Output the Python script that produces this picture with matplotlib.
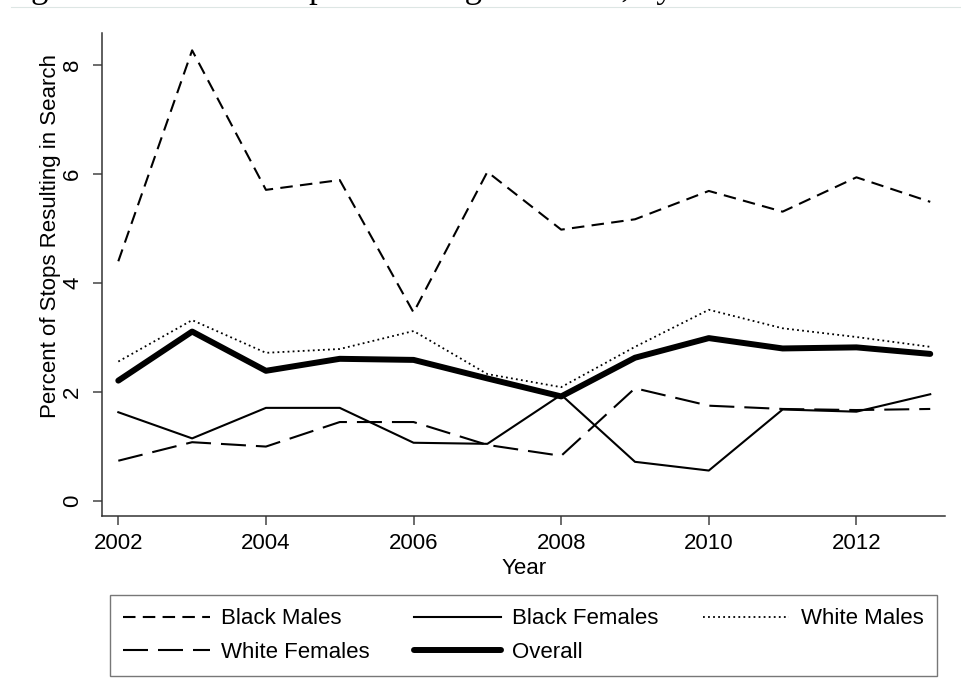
import numpy as np
import matplotlib
matplotlib.use("Agg")
import matplotlib.pyplot as plt
from matplotlib.lines import Line2D

years = [2002, 2003, 2004, 2005, 2006, 2007, 2008, 2009, 2010, 2011, 2012, 2013]
black_males = [4.39, 8.26, 5.70, 5.88, 3.45, 6.03, 4.97, 5.16, 5.68, 5.30, 5.93, 5.48]
black_females = [1.62, 1.14, 1.70, 1.70, 1.06, 1.04, 1.94, 0.71, 0.55, 1.67, 1.63, 1.95]
white_males = [2.55, 3.31, 2.71, 2.78, 3.11, 2.32, 2.08, 2.82, 3.50, 3.16, 3.00, 2.82]
white_females = [0.73, 1.07, 0.99, 1.44, 1.44, 1.02, 0.82, 2.06, 1.74, 1.68, 1.66, 1.68]
overall = [2.20, 3.10, 2.38, 2.60, 2.58, 2.24, 1.91, 2.62, 2.98, 2.79, 2.81, 2.69]

x_ticks = [2002, 2004, 2006, 2008, 2010, 2012]
y_ticks = [0, 2, 4, 6, 8]

plt.rcParams['font.family'] = ['Liberation Sans', 'DejaVu Sans']
plt.rcParams['font.size'] = 16

W, H = 961, 700
fig = plt.figure(figsize=(W / 100, H / 100), dpi=100)

# axes box in pixels: left 102, right 945, top 33, bottom 516
ax = fig.add_axes([102 / W, 1 - 516 / H, (945 - 102) / W, (516 - 33) / H])

styles = {
    "Black Males": dict(color="black", lw=1.5, dashes=(6, 3.5)),
    "Black Females": dict(color="black", lw=1.5, ls="-"),
    "White Males": dict(color="black", lw=1.3, dashes=(1, 1.8)),
    "White Females": dict(color="black", lw=1.5, dashes=(12, 4.8)),
    "Overall": dict(color="black", lw=4.3, ls="-", solid_capstyle="round"),
}
series = {
    "Black Males": black_males,
    "Black Females": black_females,
    "White Males": white_males,
    "White Females": white_females,
    "Overall": overall,
}
for name, vals in series.items():
    ax.plot(years, vals, **styles[name])

ax.set_xlim(2001.779, 2013.20)
ax.set_ylim(-0.284, 8.578)
ax.set_xticks(x_ticks)
ax.set_yticks(y_ticks)
ax.tick_params(axis="both", length=6.5, width=1.1, color="#444444", labelsize=16)
ax.tick_params(axis="x", pad=6)
ax.tick_params(axis="y", pad=7)
for lab in ax.get_yticklabels():
    lab.set_rotation(90)
    lab.set_va("center")
for side in ["top", "right"]:
    ax.spines[side].set_visible(False)
for side in ["left", "bottom"]:
    ax.spines[side].set_color("#333333")
    ax.spines[side].set_linewidth(1.1)

fig.text(51 / W, 1 - 236 / H, "Percent of Stops Resulting in Search",
         rotation=90, ha="center", va="center", fontsize=16)
fig.text(524 / W, 1 - 568 / H, "Year", ha="center", va="center", fontsize=16)

# legend, filled column by column
order = ["Black Males", "White Females", "Black Females", "Overall", "White Males"]
handles = [Line2D([], [], **styles[n]) for n in order]
leg = fig.legend(handles, order, ncol=3, loc="upper left",
                 bbox_to_anchor=(110 / W, 1 - 595 / H),
                 frameon=True, fancybox=False, handlelength=3.9,
                 handletextpad=0.5, columnspacing=2.0, labelspacing=0.55,
                 borderpad=0.6, borderaxespad=0, fontsize=16)
leg.get_frame().set_edgecolor("#555555")
leg.get_frame().set_linewidth(1.0)

# clipped caption from the page above and the rule under it
fig.text(2 / W, 1 + 3 / H, "Figure: Percent of Stops Resulting in Search, by Race and Gender",
         family=["Liberation Serif"], fontsize=25, ha="left", va="baseline")
fig.add_artist(Line2D([11 / W, 1], [1 - 7 / H, 1 - 7 / H], color="#dde6e4", lw=0.8))

fig.savefig("out.png", dpi=100)
